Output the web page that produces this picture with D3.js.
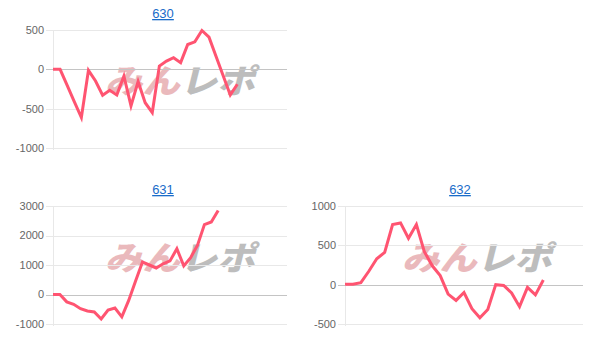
<!DOCTYPE html>
<html>
<head>
<meta charset="utf-8">
<script src="https://cdn.jsdelivr.net/npm/d3@7"></script>
<style>
  body { margin: 0; background: #fff; }
  svg { display: block; }
</style>
</head>
<body>
<script>
// values
const titles = ["630", "631", "632"];
const catCounts = [34, 35, 31];

const values630 = [0, 0, -205, -410, -613, -13, -148, -329, -266, -325, -85, -464, -156, -424, -550,
  42, 105, 148, 85, 316, 350, 494, 409, 164, -81, -325, -190];
const values631 = [0, 0, -250, -330, -480, -560, -590, -830, -530, -460, -760, -200, 460, 1100,
  1000, 900, 1040, 1140, 1550, 970, 1250, 1670, 2370, 2460, 2850];
const values632 = [5, 5, 25, 170, 330, 410, 765, 785, 590, 765, 420, 240, 115, -120, -200, -100,
  -305, -420, -315, 0, -10, -105, -280, -35, -130, 60];

const ticks630 = [-1000, -500, 0, 500];
const ticks631 = [-1000, 0, 1000, 2000, 3000];
const ticks632 = [-500, 0, 500, 1000];

const panels = [
  {title: titles[0], n: catCounts[0], values: values630, ticks: ticks630, left: 53, top: 30, width: 234, height: 118, titleX: 163, titleY: 18, mark: [105, 93]},
  {title: titles[1], n: catCounts[1], values: values631, ticks: ticks631, left: 53, top: 206, width: 234, height: 118, titleX: 163, titleY: 194, mark: [105, 270]},
  {title: titles[2], n: catCounts[2], values: values632, ticks: ticks632, left: 345, top: 206, width: 238, height: 118, titleX: 460, titleY: 194, mark: [402, 270]}
];

const svg = d3.select("body").append("svg")
  .attr("width", 616)
  .attr("height", 349);

panels.forEach(function(p) {
  const x = d3.scalePoint()
    .domain(d3.range(p.n))
    .range([0, p.width]);

  const y = d3.scaleLinear()
    .domain(d3.extent(p.ticks))
    .range([p.height, 0]);

  // title link
  svg.append("text")
    .attr("x", p.titleX)
    .attr("y", p.titleY)
    .attr("text-anchor", "middle")
    .attr("fill", "#1a6cc9")
    .style("font-family", "Liberation Sans, Arial, sans-serif")
    .style("font-size", "13px")
    .style("text-decoration", "underline")
    .text(p.title);

  // watermark logo
  const wm = svg.append("text")
    .attr("transform", `translate(${p.mark[0]}, ${p.mark[1]}) skewX(-14)`)
    .style("font-family", "Noto Sans CJK JP")
    .style("font-weight", "900")
    .style("font-size", "33px")
    .attr("textLength", 150)
    .attr("lengthAdjust", "spacingAndGlyphs");
  wm.append("tspan").attr("fill", "#eab9bc").text("みん");
  wm.append("tspan").attr("fill", "#bdbdbd").text("レポ");

  const g = svg.append("g")
    .attr("transform", `translate(${p.left}, ${p.top})`);

  // grid lines + labels
  g.selectAll(".grid")
    .data(p.ticks)
    .enter()
    .append("line")
    .attr("x1", -7)
    .attr("x2", p.width)
    .attr("y1", d => Math.round(y(d)) + 0.5)
    .attr("y2", d => Math.round(y(d)) + 0.5)
    .attr("stroke", d => d === 0 ? "#c4c4c4" : "#e8e8e8")
    .attr("stroke-width", 1);

  g.append("line")
    .attr("x1", 0.5).attr("x2", 0.5)
    .attr("y1", 0).attr("y2", p.height + 2)
    .attr("stroke", "#e8e8e8");

  g.selectAll(".tick-label")
    .data(p.ticks)
    .enter()
    .append("text")
    .attr("x", -9)
    .attr("y", d => y(d))
    .attr("dy", "0.35em")
    .attr("text-anchor", "end")
    .attr("fill", "#666")
    .style("font-family", "Liberation Sans, Arial, sans-serif")
    .style("font-size", "11px")
    .text(d => d);

  const line = d3.line()
    .x((d, i) => x(i))
    .y(d => y(d));

  g.append("path")
    .datum(p.values)
    .attr("d", line)
    .attr("fill", "none")
    .attr("stroke", "#ff5471")
    .attr("stroke-width", 3)
    .attr("stroke-linejoin", "miter");
});
</script>
</body>
</html>
